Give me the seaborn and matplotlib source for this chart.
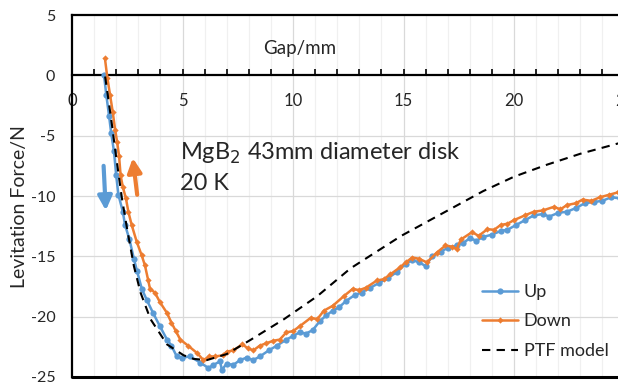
import matplotlib
matplotlib.use('Agg')
import matplotlib.pyplot as plt
import seaborn as sns
import pandas as pd

up_gap = [1.45, 1.55, 1.68, 1.77, 1.9, 2.0, 2.1, 2.3, 2.4, 2.6, 2.8, 2.94, 3.16, 3.38,
          3.67, 3.98, 4.3, 4.5, 4.74, 4.96, 5.34, 5.8, 6.17, 6.4, 6.7, 6.78, 7.0, 7.3,
          7.6, 7.9, 8.2, 8.5, 8.9, 9.27, 9.7, 10.0, 10.3, 10.6, 10.9, 11.2, 11.5, 11.8,
          12.1, 12.4, 12.8, 13.1, 13.5, 13.9, 14.3, 14.7, 15.1, 15.4, 15.7, 16.0, 16.3,
          16.7, 17.0, 17.4, 17.7, 18.0, 18.3, 18.6, 19.0, 19.4, 19.7, 20.1, 20.5, 20.9,
          21.3, 21.6, 22.0, 22.4, 22.8, 23.2, 23.6, 24.0, 24.4, 24.8]
up_force = [0.0, -1.6, -3.4, -4.75, -6.3, -8.3, -9.9, -11.3, -12.4, -13.6, -15.2, -16.2,
            -17.7, -18.6, -19.7, -20.8, -21.9, -22.4, -23.3, -23.4, -23.3, -23.8, -24.25,
            -24.0, -23.7, -24.4, -23.9, -24.0, -23.6, -23.4, -23.6, -23.3, -22.8, -22.4,
            -21.9, -21.6, -21.3, -21.4, -21.1, -20.4, -19.9, -19.5, -19.2, -18.7, -18.2,
            -18.0, -17.6, -17.2, -16.8, -16.3, -15.6, -15.3, -15.5, -15.8, -15.0, -14.6,
            -14.3, -14.1, -13.9, -13.5, -13.7, -13.4, -13.2, -12.9, -12.8, -12.4, -12.0,
            -11.6, -11.5, -11.7, -11.4, -11.3, -11.0, -10.6, -10.5, -10.4, -10.1, -10.2]

down_gap = [1.49, 1.6, 1.72, 1.84, 1.95, 2.04, 2.13, 2.2, 2.3, 2.44, 2.55, 2.7, 2.93, 3.15,
            3.3, 3.45, 3.53, 3.75, 3.98, 4.3, 4.5, 4.7, 4.9, 5.25, 5.65, 5.95, 6.2, 6.47,
            6.83, 7.0, 7.3, 7.7, 7.95, 8.2, 8.5, 8.8, 9.1, 9.4, 9.7, 10.0, 10.3, 10.8, 11.1,
            11.4, 11.8, 12.3, 12.7, 13.0, 13.3, 13.8, 14.1, 14.4, 14.85, 15.1, 15.4, 15.7,
            16.06, 16.5, 16.9, 17.2, 17.4, 17.6, 18.1, 18.4, 18.8, 19.1, 19.4, 19.7, 20.0,
            20.5, 20.9, 21.3, 21.8, 22.1, 22.4, 22.8, 23.1, 23.5, 23.9, 24.3, 24.7]
down_force = [1.4, -0.2, -1.6, -3.0, -4.5, -5.5, -6.7, -8.3, -9.25, -10.2, -11.3, -12.4,
              -13.8, -14.9, -15.75, -17.0, -17.7, -18.0, -18.8, -19.7, -20.5, -21.2, -21.9,
              -22.4, -23.0, -23.6, -23.3, -23.3, -23.2, -22.9, -22.8, -22.3, -22.6, -22.8,
              -22.4, -22.2, -22.0, -21.9, -21.3, -21.2, -20.8, -20.1, -20.2, -19.5, -19.1,
              -18.3, -17.7, -17.8, -17.6, -17.0, -16.9, -16.5, -15.9, -15.5, -15.1, -15.2,
              -15.5, -14.7, -14.1, -14.2, -14.4, -13.6, -13.0, -13.3, -12.75, -12.8, -12.4,
              -12.3, -12.0, -11.6, -11.3, -11.2, -10.9, -11.1, -10.75, -10.6, -10.3, -10.4,
              -10.1, -9.9, -9.7]

ptf_gap = [1.5, 1.8, 2.0, 2.26, 2.5, 2.8, 3.1, 3.55, 4.3, 5.05, 5.5, 6.1, 7.0, 8.1, 9.6,
           11.1, 12.6, 14.9, 16.0, 17.2, 18.6, 20.0, 21.5, 23.0, 24.8]
ptf_force = [-0.1, -4.0, -6.8, -10.2, -12.8, -15.8, -18.0, -20.2, -22.3, -23.2, -23.5,
             -23.6, -23.1, -21.9, -20.2, -18.3, -16.0, -13.3, -12.2, -11.0, -9.6, -8.4,
             -7.4, -6.5, -5.6]

up_df = pd.DataFrame({'Gap': up_gap, 'Force': up_force})
down_df = pd.DataFrame({'Gap': down_gap, 'Force': down_force})
ptf_df = pd.DataFrame({'Gap': ptf_gap, 'Force': ptf_force})

sns.set_theme(style='white')
plt.rcParams['font.family'] = ['Lato', 'DejaVu Sans']
plt.rcParams['axes.unicode_minus'] = False

blue = '#5B9BD5'
orange = '#ED7D31'

fig = plt.figure(figsize=(6.18, 3.83), dpi=100)
ax = fig.add_axes([72 / 618, 6 / 383, 552.5 / 618, 362 / 383])

# Gridlines
ax.set_xticks(range(0, 26, 1), minor=True)
for xv in range(1, 25):
    ax.axvline(xv, color='#d9d9d9' if xv % 5 == 0 else '#f0f0f0', lw=0.9, zorder=0)
for yv in [-5, -10, -15, -20]:
    ax.axhline(yv, color='#d9d9d9', lw=0.9, zorder=0)

sns.lineplot(data=up_df, x='Gap', y='Force', sort=False, estimator=None, ax=ax,
             color=blue, lw=1.8, marker='o', markersize=4.5, markeredgewidth=0,
             label='Up', zorder=3)
sns.lineplot(data=down_df, x='Gap', y='Force', sort=False, estimator=None, ax=ax,
             color=orange, lw=1.8, marker='D', markersize=3.2, markeredgewidth=0,
             label='Down', zorder=4)
sns.lineplot(data=ptf_df, x='Gap', y='Force', sort=False, estimator=None, ax=ax,
             color='black', lw=1.5, linestyle=(0, (4, 3)), label='PTF model', zorder=5)

ax.set_xlim(0, 25)
ax.set_ylim(-25, 5)

# Axis styling: x axis drawn at y=0, border around the plot area
ax.spines['bottom'].set_position(('data', 0))
for s in ['bottom', 'left', 'top', 'right']:
    ax.spines[s].set_color('black')
    ax.spines[s].set_linewidth(1.6)
ax.axhline(-25, color='black', lw=2.2, clip_on=False, zorder=6)

ax.set_xticks(range(0, 26, 5))
ax.set_yticks(range(-25, 6, 5))
ax.tick_params(axis='x', which='both', direction='in', length=4, width=1.2,
               color='black', pad=13, labelsize=12, bottom=True)
ax.tick_params(axis='y', length=0, pad=12, labelsize=11.5)
ax.set_xlabel('')
ax.set_ylabel('Levitation Force/N', fontsize=14, labelpad=6)
ax.yaxis.set_label_coords(-0.08, 0.47)

ax.text(10.3, 2.2, 'Gap/mm', fontsize=13.5, ha='center', va='center')
ax.text(4.9, -6.45, 'MgB$_2$ 43mm diameter disk', fontsize=17, ha='left', va='center')
ax.text(4.9, -9.0, '20 K', fontsize=17, ha='left', va='center')

# Direction arrows
ax.annotate('', xy=(1.53, -11.2), xytext=(1.43, -7.5),
            arrowprops=dict(arrowstyle='-|>,head_width=0.35,head_length=0.7',
                            lw=3, color=blue, shrinkA=0, shrinkB=0))
ax.annotate('', xy=(2.75, -6.85), xytext=(2.95, -9.9),
            arrowprops=dict(arrowstyle='-|>,head_width=0.35,head_length=0.7',
                            lw=3, color=orange, shrinkA=0, shrinkB=0))

leg = ax.legend(loc='center left', bbox_to_anchor=(482 / 618, (383 - 321.5) / 383),
                bbox_transform=fig.transFigure, frameon=False, fontsize=13,
                borderpad=0, borderaxespad=0, handlelength=2.0, handletextpad=0.3,
                labelspacing=0.75)

fig.savefig('out.png', dpi=100)
plt.close(fig)
